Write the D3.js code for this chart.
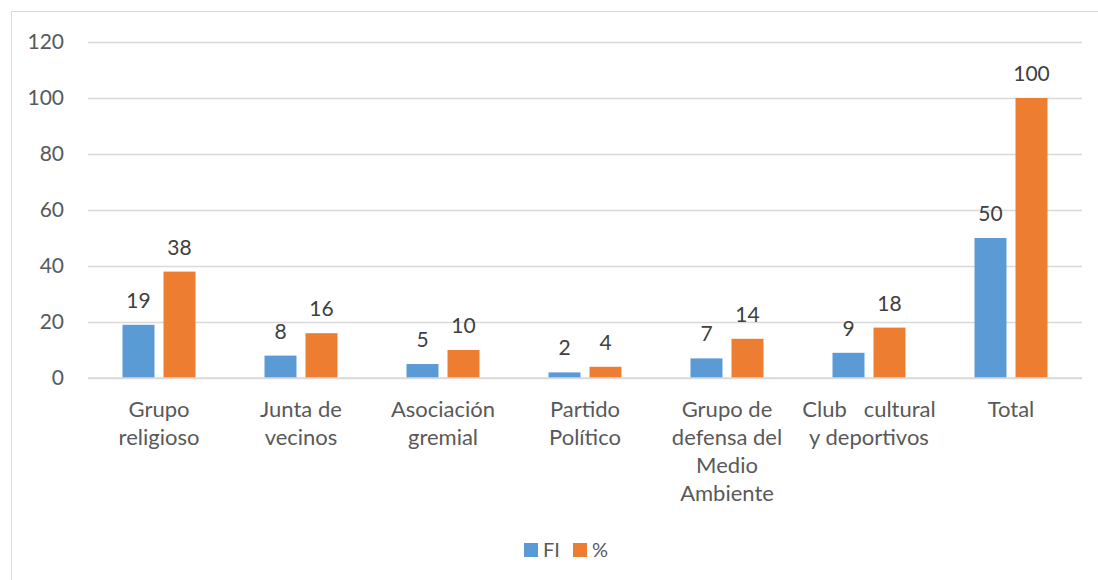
<!DOCTYPE html>
<html>
<head>
<meta charset="utf-8">
<script src="https://d3js.org/d3.v7.min.js"></script>
<style>
body { margin: 0; background: #fff; }
text { font-family: Lato, "Open Sans", sans-serif; fill: #595959; white-space: pre; }
</style>
</head>
<body>
<div id="chart"></div>
<script>
// data
var categories = ["Grupo\nreligioso", "Junta de\nvecinos", "Asociación\ngremial", "Partido\nPolítico",
                  "Grupo de\ndefensa del\nMedio\nAmbiente", "Club   cultural\ny deportivos", "Total"];
var seriesNames = ["FI", "%"];
var fiValues = [19, 8, 5, 2, 7, 9, 50];
var pctValues = [38, 16, 10, 4, 14, 18, 100];
var yTicks = [0, 20, 40, 60, 80, 100, 120];
var colors = ["#5b9bd5", "#ed7d31"];

var W = 1098, H = 580;
var margin = {top: 42, right: 16, bottom: 202, left: 88};

var svg = d3.select("#chart").append("svg")
    .attr("width", W).attr("height", H);

// outer frame, runs off the right and bottom edges
svg.append("rect")
    .attr("x", 11.5).attr("y", 11.5)
    .attr("width", W + 20).attr("height", H + 20)
    .attr("fill", "none").attr("stroke", "#d9d9d9");

var x = d3.scaleBand()
    .domain(categories)
    .range([margin.left, W - margin.right])
    .paddingInner(0.486)
    .paddingOuter(0.243);

var x1 = d3.scaleBand()
    .domain(seriesNames)
    .range([0, x.bandwidth()])
    .paddingInner(0.22);

var y = d3.scaleLinear()
    .domain([0, 120])
    .range([H - margin.bottom, margin.top]);

// gridlines + y labels
var yAxis = svg.append("g")
    .attr("transform", "translate(" + margin.left + ",0)")
    .call(d3.axisLeft(y).tickValues(yTicks).tickSize(-(W - margin.left - margin.right)).tickPadding(24));
yAxis.select(".domain").remove();
yAxis.selectAll(".tick line").attr("stroke", "#d9d9d9").attr("stroke-width", 1.3);
yAxis.selectAll(".tick text")
    .attr("font-size", "21px")
    .style("font-family", "Lato, sans-serif")
    .attr("fill", "#595959");

var rows = categories.map(function (c, i) {
  return {cat: c, vals: [fiValues[i], pctValues[i]]};
});

var groups = svg.append("g").selectAll("g")
    .data(rows).enter().append("g")
    .attr("transform", function (d) { return "translate(" + x(d.cat) + ",0)"; });

groups.selectAll("rect")
    .data(function (d) { return d.vals.map(function (v, j) { return {s: seriesNames[j], v: v, j: j}; }); })
    .enter().append("rect")
    .attr("x", function (d) { return x1(d.s); })
    .attr("y", function (d) { return y(d.v); })
    .attr("width", x1.bandwidth())
    .attr("height", function (d) { return y(0) - y(d.v); })
    .attr("fill", function (d) { return colors[d.j]; });

groups.selectAll("text.val")
    .data(function (d) { return d.vals.map(function (v, j) { return {s: seriesNames[j], v: v}; }); })
    .enter().append("text")
    .attr("class", "val")
    .attr("x", function (d) { return x1(d.s) + x1.bandwidth() / 2; })
    .attr("y", function (d) { return y(d.v) - 17; })
    .attr("text-anchor", "middle")
    .attr("font-size", "21px")
    .style("fill", "#404040")
    .text(function (d) { return d.v; });

// zero baseline
svg.append("line")
    .attr("x1", margin.left).attr("x2", W - margin.right)
    .attr("y1", y(0)).attr("y2", y(0))
    .attr("stroke", "#d9d9d9").attr("stroke-width", 1.3);

// category labels
var catLabels = svg.append("g").selectAll("text")
    .data(categories).enter().append("text")
    .attr("text-anchor", "middle")
    .attr("font-size", "22px")
    .attr("x", function (d) { return x(d) + x.bandwidth() / 2; })
    .attr("y", 417);
catLabels.each(function (d) {
  var t = d3.select(this);
  d.split("\n").forEach(function (line, k) {
    t.append("tspan")
      .attr("x", x(d) + x.bandwidth() / 2)
      .attr("dy", k === 0 ? 0 : 28)
      .text(line);
  });
});

// legend
var legendX = [524, 573];
var legend = svg.append("g").selectAll("g")
    .data(seriesNames).enter().append("g")
    .attr("transform", function (d, i) { return "translate(" + legendX[i] + ",543)"; });
legend.append("rect")
    .attr("width", 14).attr("height", 14)
    .attr("fill", function (d, i) { return colors[i]; });
legend.append("text")
    .attr("x", 19).attr("y", 14)
    .attr("font-size", "20px")
    .text(function (d) { return d; });
</script>
</body>
</html>
